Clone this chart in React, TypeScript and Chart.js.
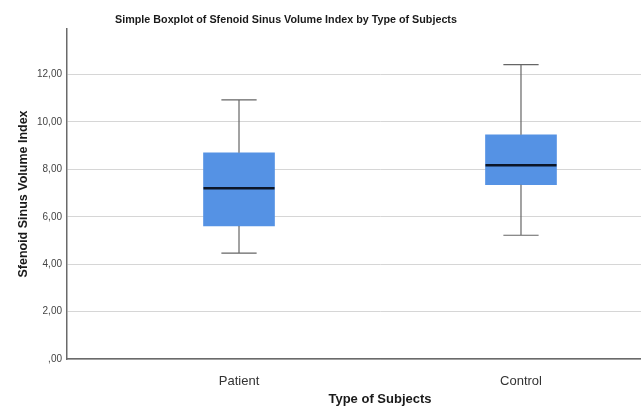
import React, { useEffect, useRef } from 'react';
import { Chart, registerables } from 'chart.js';

Chart.register(...registerables);

const categories = ['Patient', 'Control'];
const positions = [1, 2];
const whiskerLow = [4.47, 5.22];
const q1 = [5.61, 7.35];
const median = [7.2, 8.17];
const q3 = [8.7, 9.46];
const whiskerHigh = [10.93, 12.42];
const yTicks = [0, 2, 4, 6, 8, 10, 12];
const yTickLabels = [',00', '2,00', '4,00', '6,00', '8,00', '10,00', '12,00'];

const titleText = 'Simple Boxplot of Sfenoid Sinus Volume Index by Type of Subjects';
const FONT = "'Liberation Sans', Arial, sans-serif";

const boxPlugin = {
  id: 'boxWhiskers',
  afterDatasetsDraw(chart: any) {
    const { ctx, scales } = chart;
    const xs = scales.x;
    const ys = scales.y;
    ctx.save();
    positions.forEach((p, i) => {
      const cx = xs.getPixelForValue(p);
      const capL = xs.getPixelForValue(p - 0.0625);
      const capR = xs.getPixelForValue(p + 0.0625);
      const boxL = xs.getPixelForValue(p - 0.126);
      const boxR = xs.getPixelForValue(p + 0.126);
      const yHi = ys.getPixelForValue(whiskerHigh[i]);
      const yLo = ys.getPixelForValue(whiskerLow[i]);
      const yQ1 = ys.getPixelForValue(q1[i]);
      const yQ3 = ys.getPixelForValue(q3[i]);
      const yMed = ys.getPixelForValue(median[i]);
      ctx.strokeStyle = '#666666';
      ctx.lineWidth = 1.2;
      ctx.beginPath();
      ctx.moveTo(cx, yQ3);
      ctx.lineTo(cx, yHi);
      ctx.moveTo(capL, yHi);
      ctx.lineTo(capR, yHi);
      ctx.moveTo(cx, yQ1);
      ctx.lineTo(cx, yLo);
      ctx.moveTo(capL, yLo);
      ctx.lineTo(capR, yLo);
      ctx.stroke();
      ctx.strokeStyle = '#0c1628';
      ctx.lineWidth = 2.6;
      ctx.beginPath();
      ctx.moveTo(boxL, yMed);
      ctx.lineTo(boxR, yMed);
      ctx.stroke();
    });
    ctx.restore();
  },
};

const titlePlugin = {
  id: 'customTitle',
  afterDraw(chart: any) {
    const { ctx } = chart;
    ctx.save();
    ctx.font = `bold 10.75px ${FONT}`;
    ctx.fillStyle = '#1a1a1a';
    ctx.textAlign = 'center';
    ctx.textBaseline = 'middle';
    ctx.fillText(titleText, 286, 20);
    ctx.restore();
  },
};

export default function App() {
  const ref = useRef<HTMLCanvasElement>(null);
  useEffect(() => {
    if (!ref.current) return;
    const chart = new Chart(ref.current, {
      type: 'bar',
      data: {
        datasets: [
          {
            data: positions.map((p, i) => ({ x: p, y: [q1[i], q3[i]] })) as any,
            backgroundColor: '#5592E4',
            borderWidth: 0,
            barThickness: 71,
          },
        ],
      },
      options: {
        animation: false,
        responsive: false,
        devicePixelRatio: 1,
        layout: { padding: { top: 29, right: 7, left: 0, bottom: 0 } },
        plugins: {
          legend: { display: false },
          tooltip: { enabled: false },
          title: { display: false },
        },
        scales: {
          x: {
            type: 'linear',
            offset: false,
            min: 0.39,
            max: 2.61,
            afterBuildTicks: (s: any) => {
              s.ticks = positions.map((v) => ({ value: v }));
            },
            afterFit: (s: any) => {
              s.height = 51;
            },
            grid: { display: false, offset: false },
            border: { display: true, color: '#6a6a6a', width: 1.5 },
            ticks: {
              padding: 7,
              color: '#333333',
              font: { family: FONT, size: 13 },
              callback: (v: any) => categories[positions.indexOf(v)] ?? '',
            },
            title: {
              display: true,
              text: 'Type of Subjects',
              color: '#1a1a1a',
              font: { family: FONT, size: 13, weight: 'bold' },
              padding: { top: 0, bottom: 3 },
            },
          },
          y: {
            type: 'linear',
            min: 0,
            max: 13.92,
            afterBuildTicks: (s: any) => {
              s.ticks = yTicks.map((v) => ({ value: v }));
            },
            afterFit: (s: any) => {
              s.width = 67;
            },
            grid: { color: '#d6d6d6', lineWidth: 1, drawTicks: false },
            border: { display: true, color: '#6a6a6a', width: 1.5 },
            ticks: {
              padding: 5,
              color: '#444444',
              font: { family: FONT, size: 10 },
              callback: (v: any) => yTickLabels[yTicks.indexOf(v)] ?? '',
            },
            title: {
              display: true,
              text: 'Sfenoid Sinus Volume Index',
              color: '#1a1a1a',
              font: { family: FONT, size: 12.5, weight: 'bold' },
              padding: { top: 16, bottom: 0 },
            },
          },
        },
      },
      plugins: [boxPlugin, titlePlugin],
    } as any);
    return () => chart.destroy();
  }, []);
  return (
    <div style={{ position: 'fixed', left: 0, top: 0, width: 641, height: 410, overflow: 'hidden', background: '#fff' }}>
      <canvas ref={ref} width={700} height={410} style={{ width: 700, height: 410, display: 'block' }} />
    </div>
  );
}
